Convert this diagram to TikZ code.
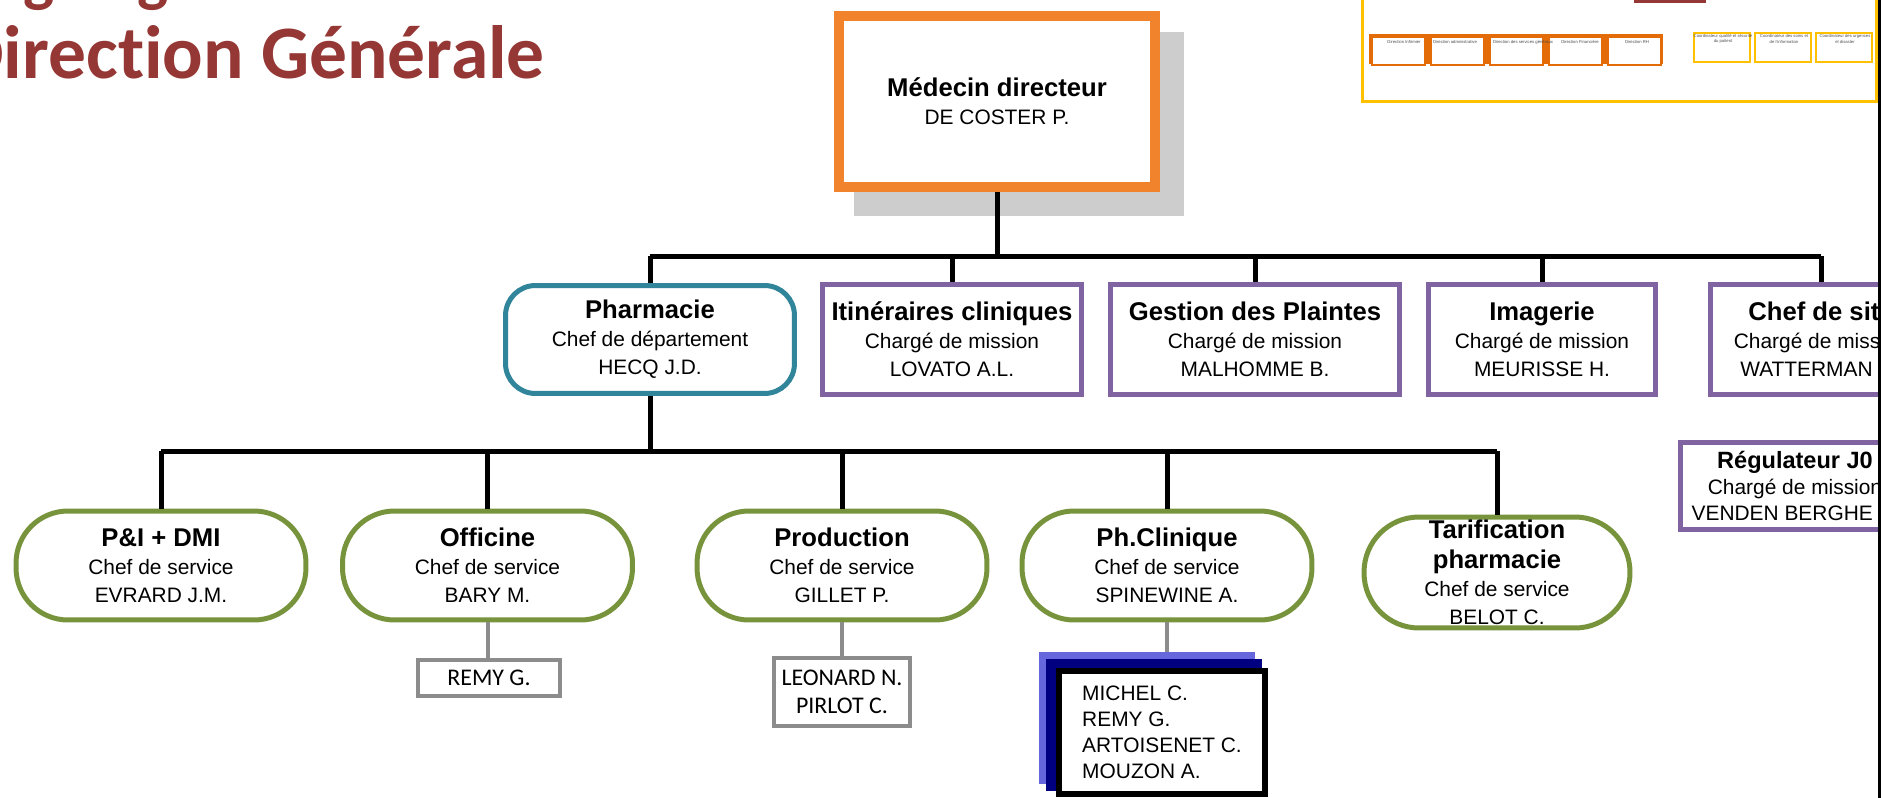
\documentclass[tikz,border=0pt]{standalone}
\usepackage{fontspec}
\setmainfont{Liberation Sans}
\newfontfamily\calibri[Ligatures=NoCommon]{Carlito}
\usetikzlibrary{calc}

\definecolor{orangeDir}{RGB}{241,131,45}
\definecolor{bleuPharma}{RGB}{49,133,155}
\definecolor{violetMission}{RGB}{128,100,162}
\definecolor{vertService}{RGB}{119,147,60}
\definecolor{grisLien}{RGB}{140,140,140}
\definecolor{ombre}{RGB}{205,205,205}
\definecolor{rougeTitre}{RGB}{149,55,53}
\definecolor{jauneCadre}{RGB}{255,192,0}
\definecolor{orangeCadre}{RGB}{227,108,9}
\definecolor{bleuClair}{RGB}{102,102,221}
\definecolor{marine}{RGB}{0,0,128}

\newcommand{\poste}[3]{{\bfseries\fontsize{14.6}{16}\selectfont #1}\\#2\\#3}

\begin{document}
\begin{tikzpicture}[x=0.02cm, y=-0.02cm,
  box/.style={draw, fill=white, line width=0.1cm, inner sep=0pt, align=center,
    font=\fontsize{11.9}{15.9}\selectfont},
  mission/.style={box, draw=violetMission, minimum height=2.2cm},
  service/.style={box, draw=vertService, rounded corners=1.04cm,
    minimum width=5.8cm, minimum height=2.18cm},
  adjoint/.style={draw=grisLien, fill=white, line width=0.08cm, inner sep=0pt,
    align=center, font=\calibri\fontsize{13.6}{15.9}\selectfont},
  direction/.style={draw=orangeCadre, fill=white, line width=0.04cm, inner sep=0pt,
    minimum width=1.06cm, minimum height=0.56cm},
  petit/.style={inner sep=0pt, align=center, text=black!70,
    font=\fontsize{2.4}{2.9}\selectfont},
  link/.style={line width=0.1cm},
  greylink/.style={grisLien, line width=0.08cm}]
\useasboundingbox (0,0) rectangle (1881,798);

% titre
\node[anchor=base west, inner sep=0pt, text=rougeTitre,
  font=\calibri\bfseries\fontsize{37.4}{40}\selectfont] (titre0) at (-44,-1) {Organigramme};
\node[anchor=base west, inner sep=0pt, text=rougeTitre,
  font=\calibri\bfseries\fontsize{43}{50}\selectfont] (titre) at (-44,78) {Direction Générale};

% vignette en haut a droite
\draw[jauneCadre, line width=0.06cm] (1362,-10) rectangle (1876,101);
\fill[rougeTitre] (1634,-10) rectangle (1706,3);
\fill[orangeCadre] (1369,34) rectangle (1663,64);
\foreach \i in {0,...,4}
  \node[direction, anchor=north west] (vd\i) at (1371+59*\i,36) {};
\node[petit] (vt0) at (1404,42) {Direction Infirmier};
\node[petit] (vt1) at (1455,42) {Direction administrative};
\node[petit] (vt2) at (1523,42) {Direction des services généraux};
\node[petit] (vt3) at (1580,42) {Direction Financière};
\node[petit] (vt4) at (1637,42) {Direction RH};
\foreach \x in {1722,1783,1844}
  \draw[jauneCadre, line width=0.04cm] (\x-28,33) rectangle (\x+28,62);
\node[petit] (vj0) at (1723,39) {Coordinateur qualité et sécurité\\du patient};
\node[petit] (vj1) at (1784,39) {Coordinateur des soins et\\de l'information};
\node[petit] (vj2) at (1845,39) {Coordinateur des urgences\\et disaster};

% direction
\fill[ombre] (854,32) rectangle (1184,216);
\node[box, draw=orangeDir, line width=0.2cm, minimum width=6.32cm, minimum height=3.42cm]
  (dir) at (997,101.5) {{\bfseries\fontsize{14.6}{16}\selectfont Médecin directeur}\\DE COSTER P.};

% departement et missions
\node[box, draw=bleuPharma, rounded corners=0.6cm, minimum width=5.78cm, minimum height=2.16cm]
  (pharma) at (650,339.5) {\poste{Pharmacie}{Chef de département}{HECQ J.D.}};
\node[mission, minimum width=5.2cm] (itin) at (952,339.5)
  {\poste{Itinéraires cliniques}{Chargé de mission}{LOVATO A.L.}};
\node[mission, minimum width=5.78cm] (plaintes) at (1255,339.5)
  {\poste{Gestion des Plaintes}{Chargé de mission}{MALHOMME B.}};
\node[mission, minimum width=4.54cm] (imagerie) at (1542,339.5)
  {\poste{Imagerie}{Chargé de mission}{MEURISSE H.}};
\node[mission, minimum width=4.42cm] (site) at (1821,339.5)
  {\poste{Chef de site}{Chargé de mission}{WATTERMAN\hphantom{ M.}}};
\node[mission, minimum width=4.58cm, minimum height=1.74cm,
  font=\fontsize{11.9}{14.9}\selectfont] (regul) at (1795,486)
  {{\bfseries\fontsize{13.4}{14}\selectfont Régulateur J0}\\Chargé de mission\\VENDEN BERGHE\hphantom{ B.}};

\coordinate (bus1) at (0,256);
\draw[link] (dir.south) -- (dir.south |- bus1);
\draw[link] (pharma.north |- bus1) -- (site.north |- bus1);
\foreach \n in {pharma, itin, plaintes, imagerie, site}
  \draw[link] (\n.north |- bus1) -- (\n.north);

% services
\node[service] (pidmi) at (161,565.5) {\poste{P\&I + DMI}{Chef de service}{EVRARD J.M.}};
\node[service] (officine) at (487.5,565.5) {\poste{Officine}{Chef de service}{BARY M.}};
\node[service] (prod) at (842,565.5) {\poste{Production}{Chef de service}{GILLET P.}};
\node[service] (clinique) at (1167,565.5) {\poste{Ph.Clinique}{Chef de service}{SPINEWINE A.}};
\node[service, rounded corners=1.1cm, minimum width=5.32cm, minimum height=2.22cm]
  (tarif) at (1497,572.5)
  {{\bfseries\fontsize{14.6}{16}\selectfont Tarification}\\[1pt]
   {\bfseries\fontsize{14.6}{16}\selectfont pharmacie}\\Chef de service\\BELOT C.};

\coordinate (bus2) at (0,451);
\draw[link] (pharma.south) -- (pharma.south |- bus2);
\draw[link] (pidmi.north |- bus2) -- (tarif.north |- bus2);
\foreach \n in {pidmi, officine, prod, clinique, tarif}
  \draw[link] (\n.north |- bus2) -- (\n.north);

% adjoints
\node[adjoint, minimum width=2.84cm, minimum height=0.72cm] (remy) at (489,678) {REMY G.};
\node[adjoint, minimum width=2.72cm, minimum height=1.36cm] (leonard) at (842,692)
  {LEONARD N.\\PIRLOT C.};
\fill[bleuClair] (1039,652) rectangle (1255,784);
\fill[marine] (1046,659) rectangle (1262,791);
\node[draw, fill=white, line width=0.12cm, inner sep=0pt, minimum width=4.12cm,
  minimum height=2.46cm, align=left, font=\fontsize{11.9}{14.7}\selectfont]
  (equipe) at (1162,732.5) {MICHEL C.\\REMY G.\\ARTOISENET C.\\MOUZON A.};
\coordinate (pile) at (1166,652);

\draw[greylink] (officine.south) -- (officine.south |- remy.north);
\draw[greylink] (prod.south) -- (prod.south |- leonard.north);
\draw[greylink] (clinique.south) -- (clinique.south |- pile);

% bord droit
\fill[black] (1878,0) rectangle (1881,798);
\end{tikzpicture}
\end{document}
